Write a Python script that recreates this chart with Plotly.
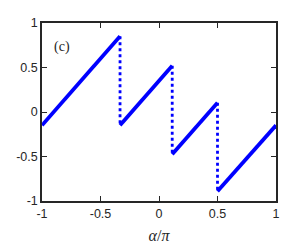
import plotly.graph_objects as go

# sawtooth solid segments (x start/end, y start/end)
seg_x = [[-1.0, -0.333], [-0.333, 0.113], [0.113, 0.5], [0.5, 1.0]]
seg_y = [[-0.15, 0.85], [-0.15, 0.52], [-0.475, 0.105], [-0.89, -0.15]]
# dotted jumps
jump_x = [-0.333, 0.113, 0.5]
jump_top = [0.85, 0.52, 0.105]
jump_bot = [-0.15, -0.475, -0.89]

tick_vals = [-1, -0.5, 0, 0.5, 1]
tick_text = ["-1", "-0.5", "0", "0.5", "1"]

fig = go.Figure()
for xs, ys in zip(seg_x, seg_y):
    fig.add_trace(go.Scatter(x=xs, y=ys, mode="lines",
                             line=dict(color="#0000ff", width=3.8),
                             showlegend=False, hoverinfo="skip"))
for x, t, b in zip(jump_x, jump_top, jump_bot):
    fig.add_trace(go.Scatter(x=[x, x], y=[t, b], mode="lines",
                             line=dict(color="#0000ff", width=2.8, dash="dot"),
                             showlegend=False, hoverinfo="skip"))

axis_common = dict(
    showline=True, linecolor="#262626", linewidth=1.5, mirror="ticks",
    ticks="inside", ticklen=5, tickwidth=1.3, tickcolor="#262626",
    showgrid=False, zeroline=False,
    tickvals=tick_vals, ticktext=tick_text,
    tickfont=dict(family="Liberation Sans, Arial", size=12.5, color="#262626"),
)

fig.update_layout(
    width=305, height=249,
    margin=dict(l=32, r=37, t=8, b=56),
    paper_bgcolor="white", plot_bgcolor="white",
    xaxis=dict(range=[-1, 1], title=dict(text="<i>α</i>/<i>π</i>", standoff=10,
               font=dict(family="Liberation Serif, serif", size=16, color="#262626")),
               **axis_common),
    yaxis=dict(range=[-1, 1], **axis_common),
    annotations=[dict(x=-0.83, y=0.73, xref="x", yref="y", text="(c)", showarrow=False,
                      font=dict(family="Liberation Serif, serif", size=14, color="#262626"))],
)

fig.write_html("out.html")
